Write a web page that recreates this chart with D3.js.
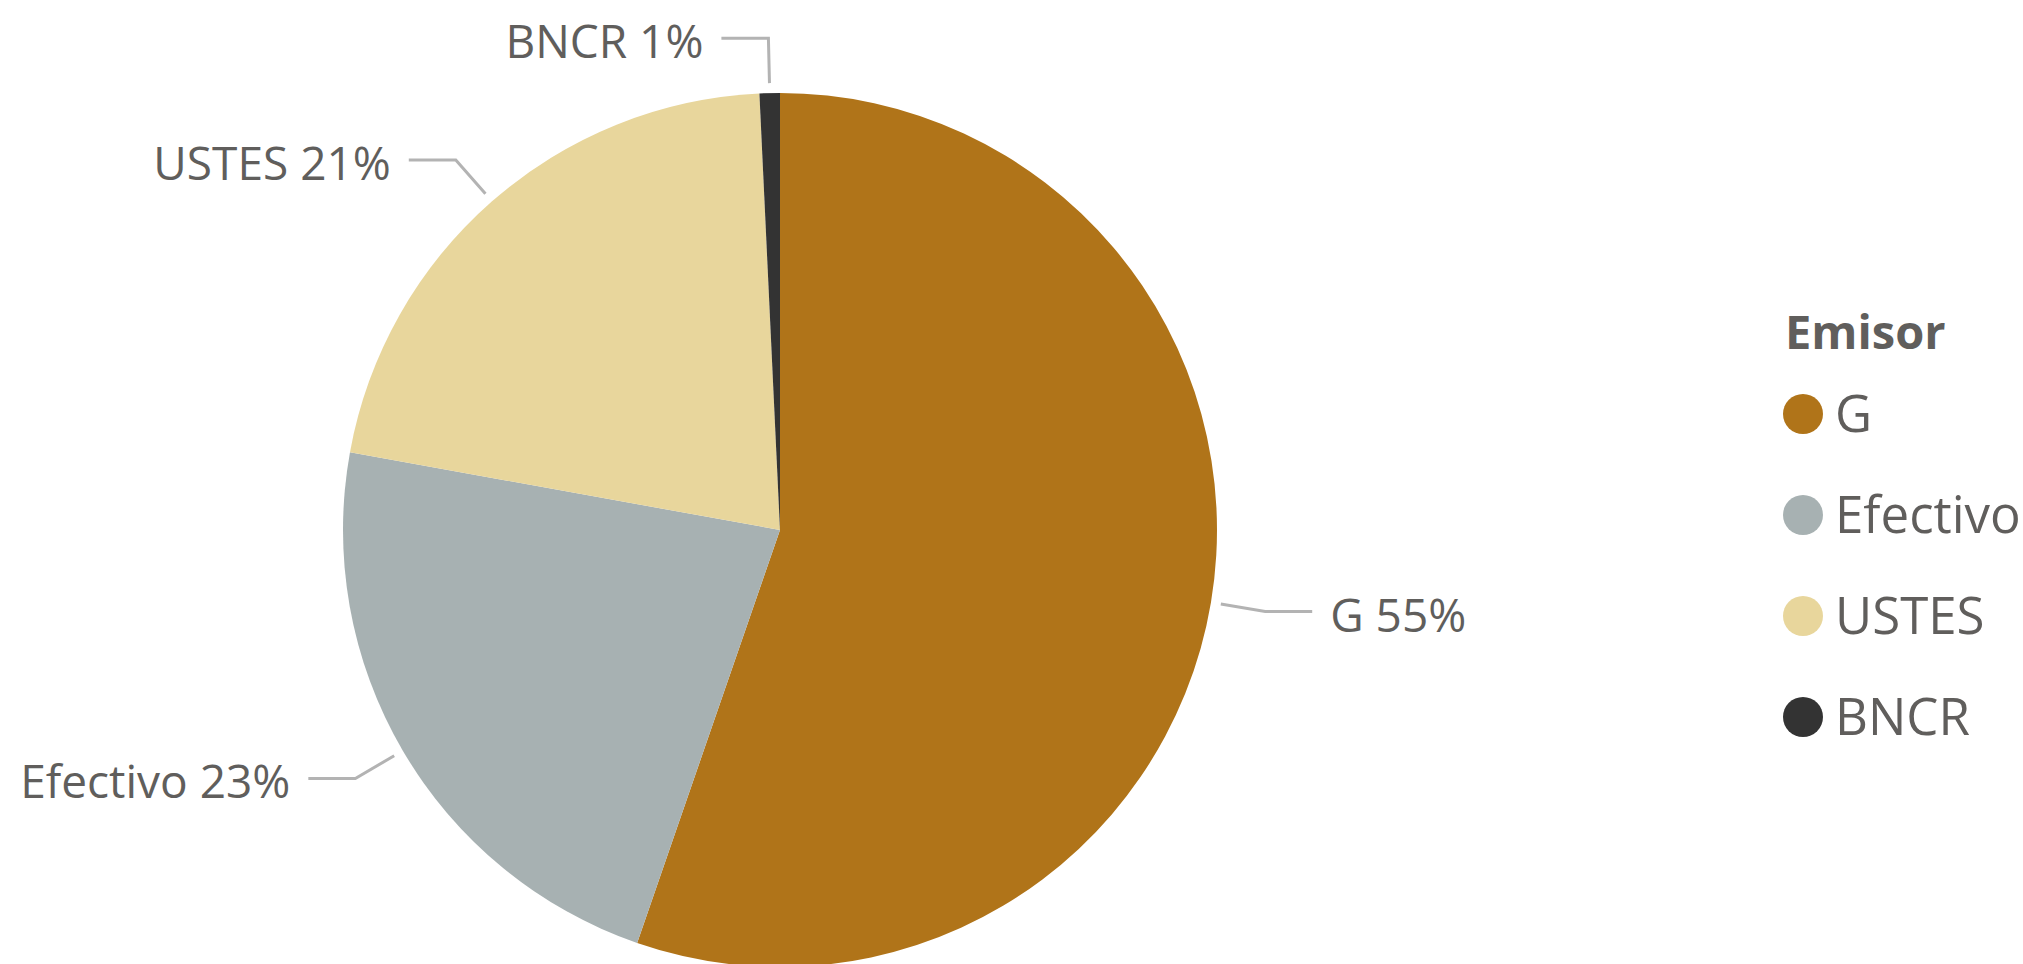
<!DOCTYPE html>
<html>
<head>
<meta charset="utf-8">
<script src="https://cdn.jsdelivr.net/npm/d3@7"></script>
<style>
  body { margin: 0; background: #fff; }
  text { font-family: "Segoe UI", "Open Sans", "Noto Sans", sans-serif; fill: #605E5C; }
</style>
</head>
<body>
<div id="chart"></div>
<script>
var categories = ["G", "Efectivo", "USTES", "BNCR"];
var values = [55.3, 22.55, 21.4, 0.75];
var colors = ["#B07419", "#A7B1B2", "#E8D69C", "#333333"];
var legendTitle = "Emisor";

var width = 2023, height = 964;
var cx = 780, cy = 530, radius = 437;

var svg = d3.select("#chart").append("svg")
    .attr("width", width)
    .attr("height", height);

var color = d3.scaleOrdinal().domain(categories).range(colors);

var pie = d3.pie().sort(null).value(function (d) { return d.value; });
var data = categories.map(function (c, i) { return { name: c, value: values[i] }; });
var arcs = pie(data);
var total = d3.sum(values);

var arc = d3.arc().innerRadius(0).outerRadius(radius);
var arcStart = d3.arc().innerRadius(radius + 10).outerRadius(radius + 10);
var arcElbow = d3.arc().innerRadius(radius + 55).outerRadius(radius + 55);

var g = svg.append("g").attr("transform", "translate(" + cx + "," + cy + ")");

g.selectAll("path.slice").data(arcs).enter().append("path")
    .attr("class", "slice")
    .attr("d", arc)
    .attr("fill", function (d) { return color(d.data.name); });

function midAngle(d) { return (d.startAngle + d.endAngle) / 2; }

// leader lines
g.selectAll("polyline").data(arcs).enter().append("polyline")
    .attr("fill", "none")
    .attr("stroke", "#B3B3B3")
    .attr("stroke-width", 3)
    .attr("points", function (d) {
        var a = arcStart.centroid(d);
        var b = arcElbow.centroid(d);
        var right = midAngle(d) < Math.PI;
        var c = [b[0] + (right ? 47 : -47), b[1]];
        return [a, b, c].map(function (p) { return p.join(","); }).join(" ");
    });

g.selectAll("text.label").data(arcs).enter().append("text")
    .attr("class", "label")
    .attr("font-size", 46)
    .attr("text-anchor", function (d) { return midAngle(d) < Math.PI ? "start" : "end"; })
    .attr("x", function (d) {
        var b = arcElbow.centroid(d);
        return midAngle(d) < Math.PI ? b[0] + 65 : b[0] - 65;
    })
    .attr("y", function (d) { return arcElbow.centroid(d)[1] + 20; })
    .text(function (d) { return d.data.name + " " + Math.round(d.data.value / total * 100) + "%"; });

// legend
var legend = svg.append("g").attr("transform", "translate(1785,0)");
legend.append("text")
    .attr("x", 0).attr("y", 349)
    .attr("font-size", 47)
    .attr("font-weight", "bold")
    .text(legendTitle);

var items = legend.selectAll("g.item").data(categories).enter().append("g")
    .attr("class", "item")
    .attr("transform", function (d, i) { return "translate(0," + (414 + i * 101) + ")"; });

items.append("circle")
    .attr("cx", 18).attr("cy", 0).attr("r", 20)
    .attr("fill", function (d) { return color(d); });

items.append("text")
    .attr("x", 50).attr("y", 18)
    .attr("font-size", 51)
    .text(function (d) { return d; });
</script>
</body>
</html>
